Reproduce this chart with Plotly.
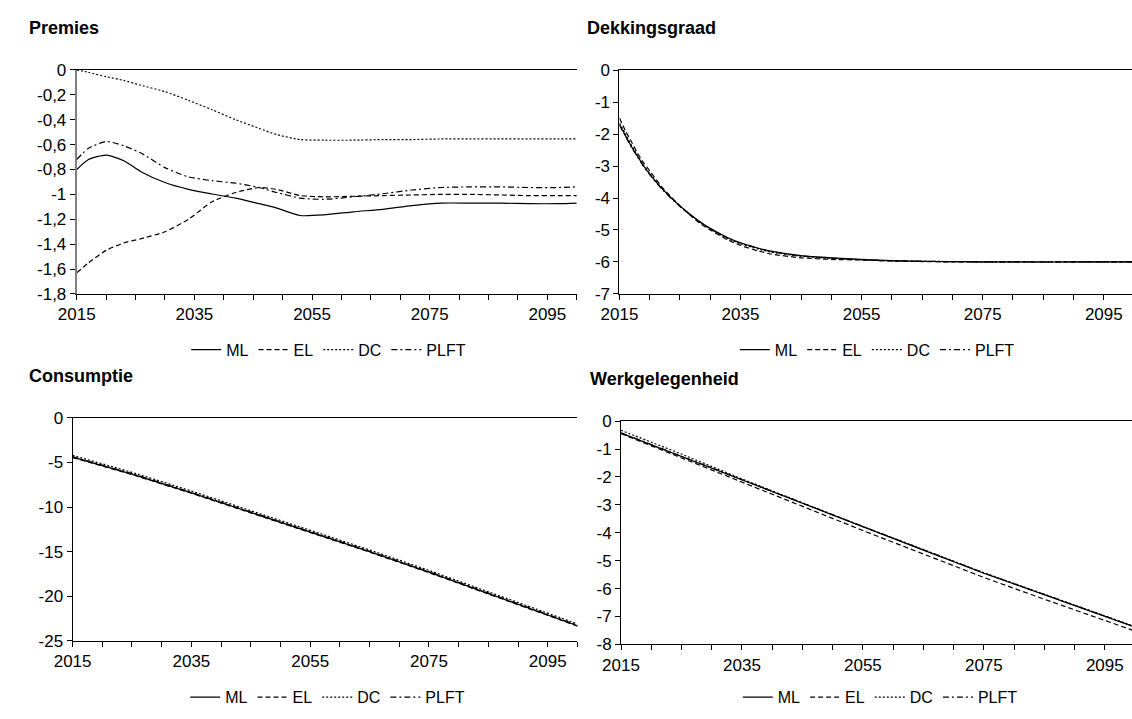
import plotly.graph_objects as go

W, H = 1132, 719

# ---------------- data ----------------
series_names = ["ML", "EL", "DC", "PLFT"]
series_dash = ["solid", "5px,3px", "2px,2px", "6px,3px,2px,3px"]

# Premies
premies_years = [2015, 2017, 2020, 2023, 2026, 2030, 2034, 2038, 2042, 2046, 2049,
                 2053, 2057, 2062, 2067, 2072, 2077, 2082, 2087, 2092, 2097, 2100]
premies_ml = [-0.80, -0.72, -0.685, -0.73, -0.82, -0.905, -0.96, -0.997, -1.03, -1.075, -1.11,
              -1.17, -1.165, -1.14, -1.12, -1.09, -1.07, -1.07, -1.07, -1.075, -1.075, -1.07]
premies_el = [-1.63, -1.55, -1.45, -1.39, -1.355, -1.30, -1.20, -1.06, -0.985, -0.945, -0.96,
              -1.01, -1.02, -1.015, -1.01, -1.005, -1.0, -1.0, -1.005, -1.01, -1.01, -1.01]
premies_dc = [0.0, -0.02, -0.055, -0.085, -0.125, -0.175, -0.245, -0.32, -0.40, -0.47, -0.52,
              -0.56, -0.565, -0.565, -0.56, -0.56, -0.555, -0.555, -0.555, -0.555, -0.555, -0.555]
premies_plft = [-0.72, -0.63, -0.575, -0.61, -0.67, -0.785, -0.86, -0.89, -0.91, -0.945, -0.985,
                -1.03, -1.04, -1.02, -0.995, -0.965, -0.945, -0.94, -0.94, -0.945, -0.945, -0.94]
premies_yticks = [0, -0.2, -0.4, -0.6, -0.8, -1.0, -1.2, -1.4, -1.6, -1.8]
premies_ylabels = ["0", "-0,2", "-0,4", "-0,6", "-0,8", "-1", "-1,2", "-1,4", "-1,6", "-1,8"]

# Dekkingsgraad
dekking_years = [2015, 2016, 2017, 2018, 2019, 2020, 2022, 2025, 2028, 2030, 2033,
                 2035, 2038, 2040, 2045, 2050, 2055, 2060, 2070, 2080, 2090, 2100]
dekking_ml = [-1.7, -2.05, -2.4, -2.7, -3.0, -3.25, -3.7, -4.25, -4.7, -4.95, -5.25,
              -5.4, -5.57, -5.66, -5.8, -5.87, -5.92, -5.96, -5.99, -6.0, -6.0, -6.0]
dekking_el = [-1.5, -1.9, -2.25, -2.6, -2.9, -3.15, -3.65, -4.25, -4.75, -5.0, -5.32,
              -5.48, -5.66, -5.75, -5.87, -5.92, -5.94, -5.97, -6.0, -6.0, -6.0, -6.0]
dekking_dc = [-1.65, -2.0, -2.36, -2.67, -2.98, -3.23, -3.69, -4.25, -4.72, -4.97, -5.28,
              -5.43, -5.6, -5.69, -5.82, -5.89, -5.93, -5.97, -5.99, -6.0, -6.0, -6.0]
dekking_plft = [-1.72, -2.07, -2.42, -2.72, -3.02, -3.27, -3.72, -4.27, -4.71, -4.96, -5.26,
                -5.41, -5.58, -5.67, -5.81, -5.88, -5.93, -5.96, -5.99, -6.0, -6.0, -6.0]
dekking_yticks = [0, -1, -2, -3, -4, -5, -6, -7]
dekking_ylabels = ["0", "-1", "-2", "-3", "-4", "-5", "-6", "-7"]

# Consumptie
consumptie_years = [2015, 2025, 2035, 2045, 2055, 2065, 2075, 2085, 2100]
consumptie_ml = [-4.4, -6.3, -8.4, -10.6, -12.8, -15.0, -17.3, -19.7, -23.3]
consumptie_el = [-4.45, -6.35, -8.45, -10.65, -12.85, -15.05, -17.35, -19.75, -23.35]
consumptie_dc = [-4.2, -6.1, -8.2, -10.4, -12.6, -14.8, -17.1, -19.5, -23.1]
consumptie_plft = [-4.35, -6.25, -8.35, -10.55, -12.75, -14.95, -17.25, -19.65, -23.25]
consumptie_yticks = [0, -5, -10, -15, -20, -25]
consumptie_ylabels = ["0", "-5", "-10", "-15", "-20", "-25"]

# Werkgelegenheid
werk_years = [2015, 2025, 2035, 2045, 2055, 2065, 2075, 2085, 2100]
werk_ml = [-0.43, -1.27, -2.1, -2.95, -3.8, -4.62, -5.45, -6.22, -7.38]
werk_el = [-0.45, -1.32, -2.2, -3.06, -3.92, -4.76, -5.6, -6.38, -7.52]
werk_dc = [-0.33, -1.18, -2.07, -2.93, -3.78, -4.6, -5.43, -6.2, -7.36]
werk_plft = [-0.42, -1.26, -2.09, -2.94, -3.79, -4.61, -5.44, -6.21, -7.37]
werk_yticks = [0, -1, -2, -3, -4, -5, -6, -7, -8]
werk_ylabels = ["0", "-1", "-2", "-3", "-4", "-5", "-6", "-7", "-8"]

x_tickvals = [2015, 2035, 2055, 2075, 2095]
x_ticklabels = ["2015", "2035", "2055", "2075", "2095"]

titles = ["Premies", "Dekkingsgraad", "Consumptie", "Werkgelegenheid"]

# ---------------- layout geometry (pixels) ----------------
panels = [
    dict(x0=58.7, x1=567.3, xr=[2015, 2100], y0=62.5, y1=292.7, yr=[-1.8, 0],
         yt=premies_yticks, yl=premies_ylabels, axcol="#808080", axw=2,
         years=premies_years, data=[premies_ml, premies_el, premies_dc, premies_plft],
         spline=True, title_xy=(8, 20), leg_xy=(315, 350)),
    dict(x0=610.7, x1=1132, xr=[2015, 2099.66], y0=62.7, y1=292.7, yr=[-7, 0],
         yt=dekking_yticks, yl=dekking_ylabels, axcol="#000000", axw=1,
         years=dekking_years, data=[dekking_ml, dekking_el, dekking_dc, dekking_plft],
         spline=True, title_xy=(576, 20), leg_xy=(873, 350)),
    dict(x0=54.5, x1=568, xr=[2015, 2100], y0=420, y1=649, yr=[-25, 0],
         yt=consumptie_yticks, yl=consumptie_ylabels, axcol="#000000", axw=1,
         years=consumptie_years, data=[consumptie_ml, consumptie_el, consumptie_dc, consumptie_plft],
         spline=False, title_xy=(8, 377), leg_xy=(314, 707)),
    dict(x0=612.3, x1=1132, xr=[2015, 2099.5], y0=423.3, y1=652.7, yr=[-8, 0],
         yt=werk_yticks, yl=werk_ylabels, axcol="#000000", axw=1,
         years=werk_years, data=[werk_ml, werk_el, werk_dc, werk_plft],
         spline=False, title_xy=(579, 380), leg_xy=(876, 707)),
]

FONT = "Liberation Sans, Arial, sans-serif"
fig = go.Figure()
layout = dict(
    width=W, height=H, margin=dict(l=0, r=0, t=0, b=0),
    paper_bgcolor="white", plot_bgcolor="white",
    font=dict(family=FONT, size=17, color="black"),
    showlegend=True, annotations=[],
)

for i, p in enumerate(panels):
    n = "" if i == 0 else str(i + 1)
    xa, ya = "x" + n, "y" + n
    legname = "legend" + n
    for k, name in enumerate(series_names):
        fig.add_trace(go.Scatter(
            x=p["years"], y=p["data"][k], name=name, mode="lines",
            line=dict(color="black", width=1.2, dash=series_dash[k],
                      shape="spline" if p["spline"] else "linear", smoothing=0.6),
            xaxis=xa, yaxis=ya, legend=legname, showlegend=True,
        ))
    layout["xaxis" + n] = dict(
        domain=[p["x0"] / W, p["x1"] / W], range=p["xr"], anchor=ya,
        showgrid=False, zeroline=False, showline=True, linecolor="black", linewidth=1,
        mirror=True, ticks="outside", ticklen=5, tickcolor="black",
        tickvals=x_tickvals, ticktext=x_ticklabels, tickfont=dict(size=17),
        minor=dict(dtick=5, tick0=2015, ticks="outside", ticklen=5, tickcolor="black", showgrid=False),
        fixedrange=True,
    )
    layout["yaxis" + n] = dict(
        domain=[(H - p["y1"]) / H, (H - p["y0"]) / H], range=p["yr"], anchor=xa,
        showgrid=False, zeroline=False, showline=True, linecolor=p["axcol"], linewidth=p["axw"],
        ticks="outside", ticklen=5, tickcolor="black",
        tickvals=p["yt"], ticktext=p["yl"], tickfont=dict(size=17),
        fixedrange=True,
    )
    lx, ly = p["leg_xy"]
    layout[legname] = dict(
        orientation="h", x=lx / W, xanchor="center", y=(H - ly) / H, yanchor="middle",
        font=dict(size=16), itemwidth=30, bgcolor="rgba(0,0,0,0)", tracegroupgap=0,
        traceorder="normal",
    )
    tx, ty = p["title_xy"]
    layout["annotations"].append(dict(
        text="<b>" + titles[i] + "</b>", xref="paper", yref="paper",
        x=tx / W, y=(H - ty) / H, xanchor="left", yanchor="middle",
        showarrow=False, font=dict(size=18, family=FONT),
    ))

fig.update_layout(**layout)
fig.write_html("out.html")
